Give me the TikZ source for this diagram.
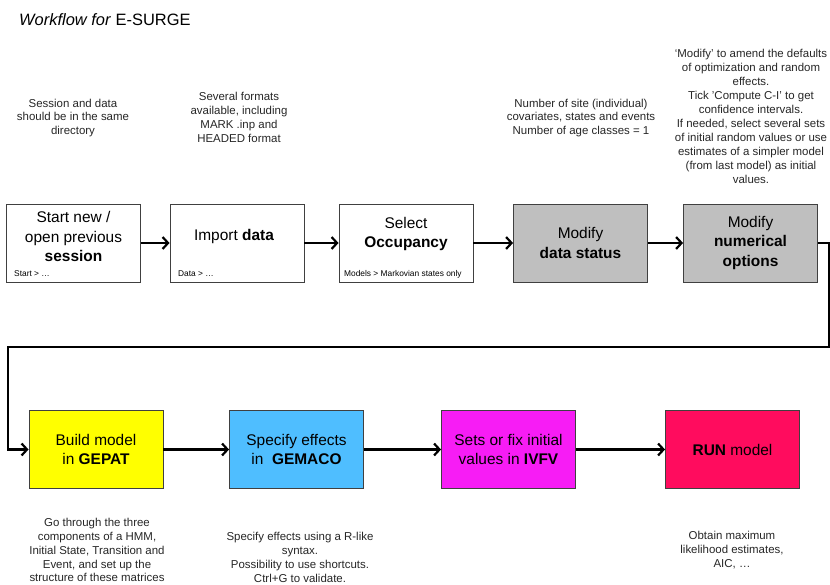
\documentclass[tikz,border=0pt]{standalone}
\usepackage{fontspec}
\setmainfont{Liberation Sans}
\usetikzlibrary{arrows.meta}

\definecolor{boxgray}{RGB}{191,191,191}
\definecolor{gepatyellow}{RGB}{255,255,0}
\definecolor{gemacoblue}{RGB}{79,190,255}
\definecolor{ivfvmagenta}{RGB}{247,28,245}
\definecolor{runred}{RGB}{255,12,94}

\begin{document}
\begin{tikzpicture}[
  x=1bp, y=-1bp,
  step box/.style={draw=black!75, line width=0.9bp, minimum width=134bp, minimum height=78bp,
                   align=center, inner sep=2bp, font=\fontsize{15.5}{19.5}\selectfont},
  box text/.style={align=center, inner sep=0pt, font=\fontsize{15.5}{19.5}\selectfont},
  hint/.style={anchor=west, inner sep=0pt, font=\fontsize{8.4}{10}\selectfont},
  note/.style={align=center, inner sep=0pt, text=black!85, font=\fontsize{11.5}{14}\selectfont},
  flow/.style={line width=2.4bp, draw=black, -{Straight Barb[length=5.5bp, width=12bp, line width=2.2bp]}},
  title/.style={anchor=west, inner sep=0pt, font=\fontsize{16.5}{19}\selectfont}
]
\useasboundingbox (0,0) rectangle (830,585);

% ===================== Title =====================
\node[title] (ttl) at (19,20) {\textit{Workflow for} E-SURGE};

% ===================== TOP ROW =====================
  % Boxes
  \node[step box, fill=white]    (start)  at (73.5,243)  {};
  \node[step box, fill=white]    (import) at (237,243)   {};
  \node[step box, fill=white]    (occup)  at (406,243)   {};
  \node[step box, fill=boxgray]  (status) at (580.5,243) {Modify\\\textbf{data status}};
  \node[step box, fill=boxgray]  (numopt) at (750.5,243) {Modify\\\textbf{numerical}\\\textbf{options}};

  % Box texts (raised to leave room for the menu path)
  \node[box text] (starttext)  at (73.5,236.5) {Start new /\\open previous\\\textbf{session}};
  \node[box text] (importtext) at (234,237)    {Import \textbf{data}};
  \node[box text] (occuptext)  at (406,234)    {Select\\\textbf{Occupancy}};

  % Menu paths inside the boxes
  \node[hint] (starthint)  at (14,274)  {Start > …};
  \node[hint] (importhint) at (178,274) {Data > …};
  \node[hint] (occuphint)  at (344,274) {Models > Markovian states only};

  % Edges
  \draw[flow] (start)  -- (import);
  \draw[flow] (import) -- (occup);
  \draw[flow] (occup)  -- (status);
  \draw[flow] (status) -- (numopt);

  % Notes above
  \node[note] (startnote)  at (73,118)    {Session and data\\should be in the same\\directory};
  \node[note] (importnote) at (239,117)   {Several formats\\available, including\\MARK .inp and\\HEADED format};
  \node[note] (statusnote) at (581,118)   {Number of site (individual)\\covariates, states and events\\Number of age classes = 1};
  \node[note] (numoptnote) at (751,116.5) {‘Modify’ to amend the defaults\\of optimization and random\\effects.\\Tick 'Compute C-I' to get\\confidence intervals.\\If needed, select several sets\\of initial random values or use\\estimates of a simpler model\\(from last model) as initial\\values.};

% ===================== BOTTOM ROW =====================
  % Boxes
  \node[step box, fill=gepatyellow] (gepat)  at (96,449.5)    {Build model\\in \textbf{GEPAT}};
  \node[step box, fill=gemacoblue]  (gemaco) at (296.5,449.5) {Specify effects\\in\ \ \textbf{GEMACO}};
  \node[step box, fill=ivfvmagenta] (ivfv)   at (508.5,449.5) {Sets or fix initial\\values in \textbf{IVFV}};
  \node[step box, fill=runred]      (run)    at (732.5,449.5) {\textbf{RUN} model};

  % Return path from the top row
  \coordinate (rturn) at (829.5,347);
  \coordinate (lturn) at (8,347);
  \draw[flow] (numopt) -| (rturn) -- (lturn) |- (gepat);

  % Edges
  \draw[flow] (gepat)  -- (gemaco);
  \draw[flow] (gemaco) -- (ivfv);
  \draw[flow] (ivfv)   -- (run);

  % Notes below
  \node[note] (gepatnote)  at (97,550)  {Go through the three\\components of a HMM,\\Initial State, Transition and\\Event, and set up the\\structure of these matrices};
  \node[note] (gemaconote) at (300,557) {Specify effects using a R-like\\syntax.\\Possibility to use shortcuts.\\Ctrl+G to validate.};
  \node[note] (runnote)    at (732,550) {Obtain maximum\\likelihood estimates,\\AIC, …};

\end{tikzpicture}
\end{document}
